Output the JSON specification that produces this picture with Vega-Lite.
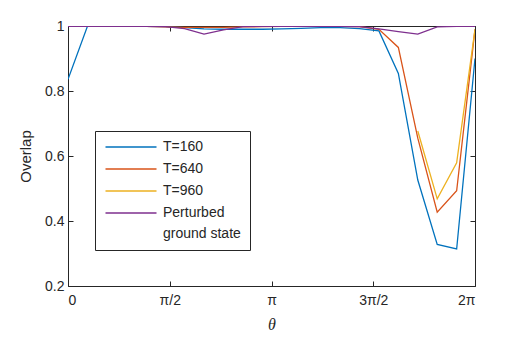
{
  "$schema": "https://vega.github.io/schema/vega-lite/v6.json",
  "width": 407,
  "height": 260,
  "autosize": {"type": "none"},
  "padding": {"left": 68, "top": 26, "right": 50, "bottom": 53},
  "background": "white",
  "config": {
    "view": {"stroke": null},
    "axis": {
      "grid": false,
      "domainColor": "#262626",
      "domainWidth": 1,
      "tickColor": "#262626",
      "tickWidth": 1,
      "tickSize": -5,
      "labelColor": "#262626",
      "labelFont": "Liberation Sans",
      "labelFontSize": 14,
      "titleFont": "Liberation Sans",
      "titleFontSize": 15,
      "titleFontWeight": "normal",
      "titleColor": "#262626"
    },
    "legend": {
      "labelFont": "Liberation Sans",
      "labelFontSize": 14,
      "labelColor": "#262626",
      "labelLimit": 0
    },
    "style": {"guide-label": {"lineHeight": 21}}
  },
  "data": {
    "values": [
      {"theta": 0.0, "series": "T=160", "value": 0.836},
      {"theta": 0.3, "series": "T=160", "value": 0.999},
      {"theta": 0.6, "series": "T=160", "value": 0.999},
      {"theta": 0.9, "series": "T=160", "value": 0.999},
      {"theta": 1.2, "series": "T=160", "value": 0.999},
      {"theta": 1.5, "series": "T=160", "value": 0.998},
      {"theta": 1.8, "series": "T=160", "value": 0.995},
      {"theta": 2.1, "series": "T=160", "value": 0.991},
      {"theta": 2.4, "series": "T=160", "value": 0.990},
      {"theta": 2.7, "series": "T=160", "value": 0.990},
      {"theta": 3.0, "series": "T=160", "value": 0.990},
      {"theta": 3.3, "series": "T=160", "value": 0.991},
      {"theta": 3.6, "series": "T=160", "value": 0.993},
      {"theta": 3.9, "series": "T=160", "value": 0.995},
      {"theta": 4.2, "series": "T=160", "value": 0.995},
      {"theta": 4.5, "series": "T=160", "value": 0.992},
      {"theta": 4.8, "series": "T=160", "value": 0.985},
      {"theta": 5.1, "series": "T=160", "value": 0.854},
      {"theta": 5.4, "series": "T=160", "value": 0.526},
      {"theta": 5.7, "series": "T=160", "value": 0.328},
      {"theta": 6.0, "series": "T=160", "value": 0.314},
      {"theta": 6.2832, "series": "T=160", "value": 0.9},
      {"theta": 0.0, "series": "T=640", "value": 0.999},
      {"theta": 0.3, "series": "T=640", "value": 0.999},
      {"theta": 0.6, "series": "T=640", "value": 0.999},
      {"theta": 0.9, "series": "T=640", "value": 0.999},
      {"theta": 1.2, "series": "T=640", "value": 0.999},
      {"theta": 1.5, "series": "T=640", "value": 0.997},
      {"theta": 1.8, "series": "T=640", "value": 0.996},
      {"theta": 2.1, "series": "T=640", "value": 0.996},
      {"theta": 2.4, "series": "T=640", "value": 0.996},
      {"theta": 2.7, "series": "T=640", "value": 0.997},
      {"theta": 3.0, "series": "T=640", "value": 0.998},
      {"theta": 3.3, "series": "T=640", "value": 0.999},
      {"theta": 3.6, "series": "T=640", "value": 0.999},
      {"theta": 3.9, "series": "T=640", "value": 0.999},
      {"theta": 4.2, "series": "T=640", "value": 0.999},
      {"theta": 4.5, "series": "T=640", "value": 0.998},
      {"theta": 4.8, "series": "T=640", "value": 0.990},
      {"theta": 5.1, "series": "T=640", "value": 0.934},
      {"theta": 5.4, "series": "T=640", "value": 0.655},
      {"theta": 5.7, "series": "T=640", "value": 0.427},
      {"theta": 6.0, "series": "T=640", "value": 0.493},
      {"theta": 6.2832, "series": "T=640", "value": 0.99},
      {"theta": 5.4, "series": "T=960", "value": 0.677},
      {"theta": 5.7, "series": "T=960", "value": 0.468},
      {"theta": 6.0, "series": "T=960", "value": 0.579},
      {"theta": 6.2832, "series": "T=960", "value": 0.99},
      {"theta": 0.0, "series": "Perturbed ground state", "value": 0.999},
      {"theta": 0.3, "series": "Perturbed ground state", "value": 0.999},
      {"theta": 0.6, "series": "Perturbed ground state", "value": 0.999},
      {"theta": 0.9, "series": "Perturbed ground state", "value": 0.999},
      {"theta": 1.2, "series": "Perturbed ground state", "value": 0.999},
      {"theta": 1.5, "series": "Perturbed ground state", "value": 0.998},
      {"theta": 1.8, "series": "Perturbed ground state", "value": 0.992},
      {"theta": 2.1, "series": "Perturbed ground state", "value": 0.975},
      {"theta": 2.4, "series": "Perturbed ground state", "value": 0.988},
      {"theta": 2.7, "series": "Perturbed ground state", "value": 0.998},
      {"theta": 3.0, "series": "Perturbed ground state", "value": 0.999},
      {"theta": 3.3, "series": "Perturbed ground state", "value": 0.999},
      {"theta": 3.6, "series": "Perturbed ground state", "value": 0.999},
      {"theta": 3.9, "series": "Perturbed ground state", "value": 0.999},
      {"theta": 4.2, "series": "Perturbed ground state", "value": 0.999},
      {"theta": 4.5, "series": "Perturbed ground state", "value": 0.998},
      {"theta": 4.8, "series": "Perturbed ground state", "value": 0.991},
      {"theta": 5.1, "series": "Perturbed ground state", "value": 0.983},
      {"theta": 5.4, "series": "Perturbed ground state", "value": 0.975},
      {"theta": 5.7, "series": "Perturbed ground state", "value": 0.997},
      {"theta": 6.0, "series": "Perturbed ground state", "value": 0.999},
      {"theta": 6.2832, "series": "Perturbed ground state", "value": 0.999}
    ]
  },
  "layer": [
    {
      "mark": {"type": "line", "strokeWidth": 1.3, "clip": true},
      "encoding": {
        "x": {
          "field": "theta", "type": "quantitative",
          "scale": {"domain": [0, 6.2832], "nice": false, "zero": false},
          "axis": {
            "orient": "bottom",
            "values": [0, 1.5708, 3.1416, 4.7124, 6.2832],
            "labelExpr": "['0','π/2','π','3π/2','2π'][round(datum.value / 1.5708)]",
            "labelPadding": 12,
            "title": "θ",
            "titleFont": "Liberation Serif",
            "titleFontStyle": "italic",
            "titleFontSize": 16,
            "titlePadding": 9
          }
        },
        "y": {
          "field": "value", "type": "quantitative",
          "scale": {"domain": [0.2, 1], "nice": false, "zero": false},
          "axis": {
            "orient": "left",
            "values": [0.2, 0.4, 0.6, 0.8, 1],
            "format": ".1~f",
            "labelPadding": 9,
            "title": "Overlap",
            "titlePadding": 11
          }
        },
        "color": {
          "field": "series", "type": "nominal",
          "scale": {
            "domain": ["T=160", "T=640", "T=960", "Perturbed ground state"],
            "range": ["#0072BD", "#D95319", "#EDB120", "#7E2F8E"]
          },
          "legend": {
            "title": null,
            "orient": "none",
            "legendX": 27,
            "legendY": 105,
            "direction": "vertical",
            "strokeColor": "#262626",
            "fillColor": "white",
            "padding": 9,
            "symbolType": "M-5.1,0H5.1",
            "symbolSize": 100,
            "symbolStrokeWidth": 1.5,
            "symbolOffset": 20,
            "labelOffset": 25,
            "rowPadding": 8,
            "labelExpr": "datum.label == 'Perturbed ground state' ? ['Perturbed', 'ground state'] : datum.label"
          }
        }
      }
    },
    {
      "mark": {"type": "line", "strokeOpacity": 0},
      "encoding": {
        "x": {
          "field": "theta", "type": "quantitative",
          "axis": {"orient": "top", "values": [0, 1.5708, 3.1416, 4.7124, 6.2832], "labels": false, "title": null}
        },
        "y": {
          "field": "value", "type": "quantitative",
          "axis": {"orient": "right", "values": [0.2, 0.4, 0.6, 0.8, 1], "labels": false, "title": null}
        }
      }
    }
  ],
  "resolve": {"axis": {"x": "independent", "y": "independent"}}
}
